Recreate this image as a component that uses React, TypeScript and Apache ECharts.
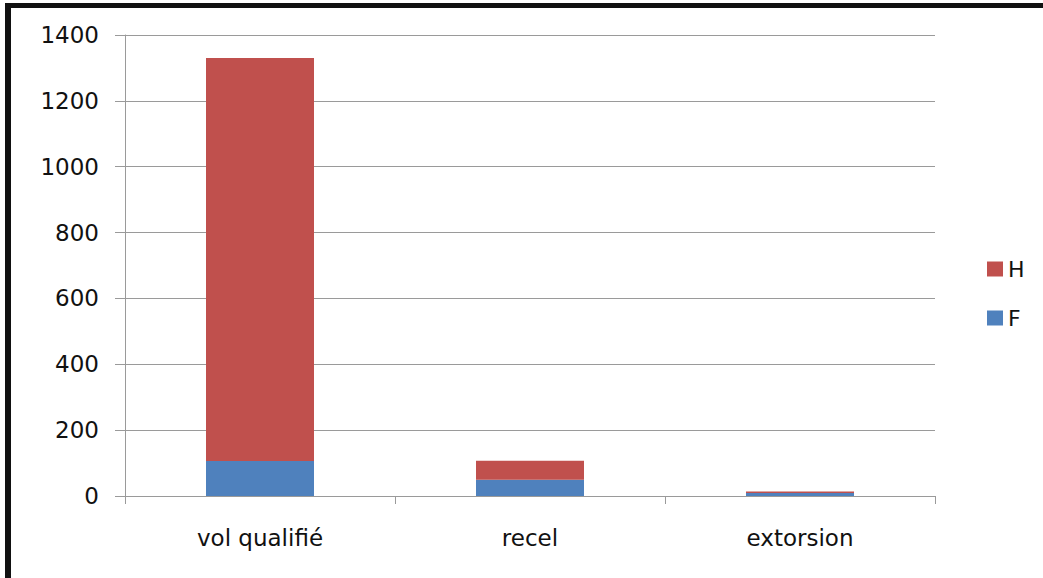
import React, { useEffect, useRef } from "react";
import * as echarts from "echarts";

const categories = ["vol qualifié", "recel", "extorsion"];
const seriesF = [106, 49, 9];
const seriesH = [1224, 58, 5];
const yTicks = { min: 0, max: 1400, interval: 200 };

export default function App() {
  const ref = useRef<HTMLDivElement>(null);
  useEffect(() => {
    const chart = echarts.init(ref.current!, null, { renderer: "svg" });
    const font = "DejaVu Sans";
    chart.setOption({
      animation: false,
      backgroundColor: "#ffffff",
      textStyle: { fontFamily: font },
      grid: { left: 125, right: 108, top: 35, bottom: 82, containLabel: false },
      legend: {
        orient: "vertical",
        left: 982,
        top: 253,
        itemWidth: 16,
        itemHeight: 15,
        itemGap: 27,
        icon: "rect",
        data: ["H", "F"],
        textStyle: { fontFamily: font, fontSize: 22, color: "#111", padding: [0, 0, 0, 0] },
      },
      xAxis: {
        type: "category",
        data: categories,
        axisLine: { lineStyle: { color: "#9a9a9a", width: 1 } },
        axisTick: { show: true, length: 8, lineStyle: { color: "#9a9a9a" } },
        axisLabel: { fontFamily: font, fontSize: 23, color: "#111", margin: 30 },
      },
      yAxis: {
        type: "value",
        min: yTicks.min,
        max: yTicks.max,
        interval: yTicks.interval,
        axisLine: { show: true, lineStyle: { color: "#9a9a9a", width: 1 } },
        axisTick: { show: true, length: 10, lineStyle: { color: "#9a9a9a" } },
        axisLabel: {
          fontFamily: font,
          fontSize: 23,
          color: "#111",
          margin: 26,
          formatter: (v: number) => String(v),
        },
        splitLine: { show: true, lineStyle: { color: "#9a9a9a", width: 1 } },
      },
      series: [
        {
          name: "F",
          type: "bar",
          stack: "total",
          data: seriesF,
          barWidth: "40%",
          itemStyle: { color: "#4F81BD" },
        },
        {
          name: "H",
          type: "bar",
          stack: "total",
          data: seriesH,
          barWidth: "40%",
          itemStyle: { color: "#C0504D" },
        },
      ],
      graphic: [
        { type: "rect", shape: { x: 5, y: 3, width: 1038, height: 5 }, style: { fill: "#111" }, silent: true },
        { type: "rect", shape: { x: 5, y: 3, width: 6, height: 575 }, style: { fill: "#111" }, silent: true },
      ],
    });
    return () => chart.dispose();
  }, []);
  return (
    <div
      ref={ref}
      style={{ position: "absolute", left: 0, top: 0, width: 1043, height: 578 }}
    />
  );
}
